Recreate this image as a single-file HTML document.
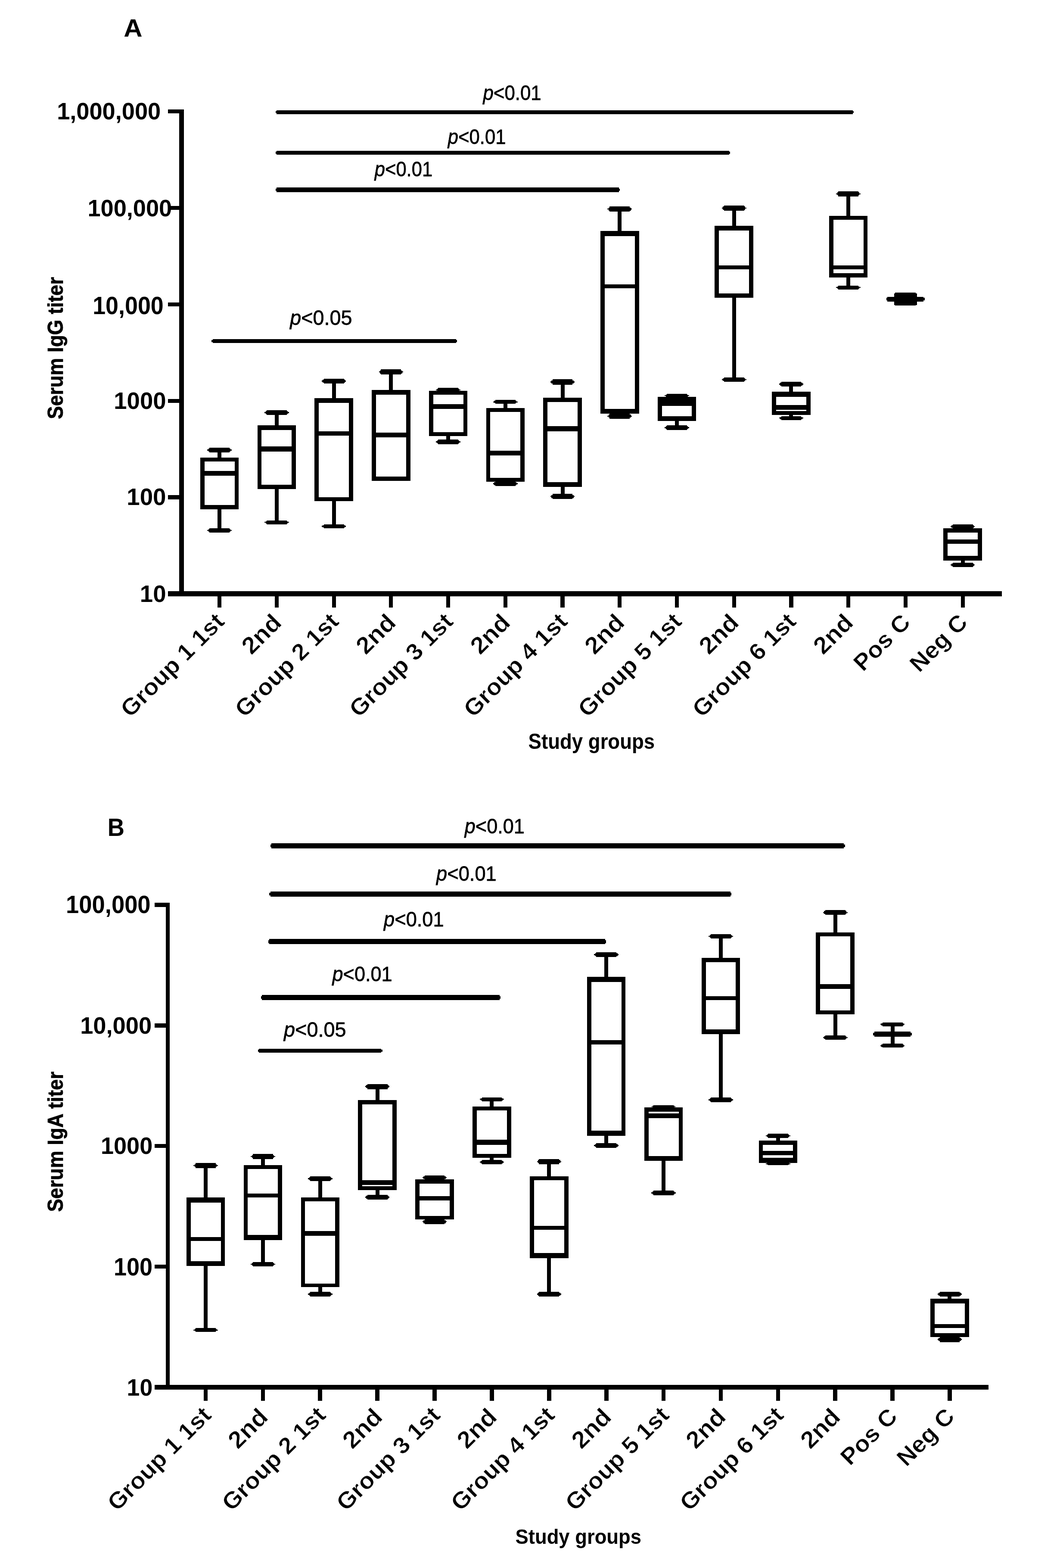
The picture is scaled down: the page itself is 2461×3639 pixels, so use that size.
<!DOCTYPE html>
<html><head><meta charset="utf-8"><title>Serum IgG and IgA titers by study group</title>
<style>
html,body{margin:0;padding:0;background:#fff;}
svg{display:block;}
text{font-family:"Liberation Sans", Arial, Helvetica, sans-serif;fill:#000;}
.pv{stroke:#000;stroke-width:0.8px;}
.tt{stroke:#000;stroke-width:0.8px;}
.xl{stroke:#fff;stroke-width:0.8px;}
</style></head>
<body>
<svg width="2461" height="3639" viewBox="0 0 2461 3639">
<rect x="0" y="0" width="2461" height="3639" fill="#fff"/>
<g>
<text id="pv0" x="1121.5" y="232.4" font-size="48.60" font-weight="normal" textLength="135.2" lengthAdjust="spacingAndGlyphs" class="pv"><tspan font-style="italic">p</tspan><tspan>&lt;0.01</tspan></text>
<text id="pv1" x="1039.8" y="333.7" font-size="48.60" font-weight="normal" textLength="134.8" lengthAdjust="spacingAndGlyphs" class="pv"><tspan font-style="italic">p</tspan><tspan>&lt;0.01</tspan></text>
<text id="pv2" x="869.8" y="409.0" font-size="48.60" font-weight="normal" textLength="134.3" lengthAdjust="spacingAndGlyphs" class="pv"><tspan font-style="italic">p</tspan><tspan>&lt;0.01</tspan></text>
<text id="pv3" x="673.2" y="753.6" font-size="48.60" font-weight="normal" textLength="144.3" lengthAdjust="spacingAndGlyphs" class="pv"><tspan font-style="italic">p</tspan><tspan>&lt;0.05</tspan></text>
<text id="pv4" x="1078.8" y="1933.6" font-size="48.60" font-weight="normal" textLength="139.0" lengthAdjust="spacingAndGlyphs" class="pv"><tspan font-style="italic">p</tspan><tspan>&lt;0.01</tspan></text>
<text id="pv5" x="1013.1" y="2044.0" font-size="48.60" font-weight="normal" textLength="139.6" lengthAdjust="spacingAndGlyphs" class="pv"><tspan font-style="italic">p</tspan><tspan>&lt;0.01</tspan></text>
<text id="pv6" x="891.1" y="2149.9" font-size="48.60" font-weight="normal" textLength="139.5" lengthAdjust="spacingAndGlyphs" class="pv"><tspan font-style="italic">p</tspan><tspan>&lt;0.01</tspan></text>
<text id="pv7" x="771.5" y="2276.6" font-size="48.60" font-weight="normal" textLength="139.2" lengthAdjust="spacingAndGlyphs" class="pv"><tspan font-style="italic">p</tspan><tspan>&lt;0.01</tspan></text>
<text id="pv8" x="659.0" y="2406.1" font-size="48.60" font-weight="normal" textLength="144.6" lengthAdjust="spacingAndGlyphs" class="pv"><tspan font-style="italic">p</tspan><tspan>&lt;0.05</tspan></text>
<text id="yl0" x="132.2" y="276.8" font-size="55.23" font-weight="bold" textLength="241.0" lengthAdjust="spacingAndGlyphs"><tspan>1,000,000</tspan></text>
<text id="yl1" x="203.4" y="502.4" font-size="54.66" font-weight="bold" textLength="195.8" lengthAdjust="spacingAndGlyphs"><tspan>100,000</tspan></text>
<text id="yl2" x="215.2" y="728.8" font-size="56.50" font-weight="bold" textLength="164.6" lengthAdjust="spacingAndGlyphs"><tspan>10,000</tspan></text>
<text id="yl3" x="264.3" y="949.2" font-size="55.65" font-weight="bold" textLength="121.3" lengthAdjust="spacingAndGlyphs"><tspan>1000</tspan></text>
<text id="yl4" x="294.3" y="1172.1" font-size="54.94" font-weight="bold" textLength="91.2" lengthAdjust="spacingAndGlyphs"><tspan>100</tspan></text>
<text id="yl5" x="324.8" y="1397.3" font-size="54.94" font-weight="bold" textLength="60.7" lengthAdjust="spacingAndGlyphs"><tspan>10</tspan></text>
<text id="yl6" x="153.1" y="2119.0" font-size="56.50" font-weight="bold" textLength="196.5" lengthAdjust="spacingAndGlyphs"><tspan>100,000</tspan></text>
<text id="yl7" x="186.2" y="2398.5" font-size="55.79" font-weight="bold" textLength="165.9" lengthAdjust="spacingAndGlyphs"><tspan>10,000</tspan></text>
<text id="yl8" x="234.0" y="2677.9" font-size="55.79" font-weight="bold" textLength="120.2" lengthAdjust="spacingAndGlyphs"><tspan>1000</tspan></text>
<text id="yl9" x="264.0" y="2960.0" font-size="56.50" font-weight="bold" textLength="90.2" lengthAdjust="spacingAndGlyphs"><tspan>100</tspan></text>
<text id="yl10" x="294.6" y="3239.3" font-size="55.51" font-weight="bold" textLength="59.6" lengthAdjust="spacingAndGlyphs"><tspan>10</tspan></text>
<text id="pA" x="287.3" y="84.7" font-size="57.99" font-weight="bold" textLength="43.3" lengthAdjust="spacingAndGlyphs"><tspan>A</tspan></text>
<text id="pB" x="249.8" y="1940.3" font-size="57.99" font-weight="bold" textLength="39.2" lengthAdjust="spacingAndGlyphs"><tspan>B</tspan></text>
<text id="xtA" x="1226.6" y="1737.9" font-size="49.29" font-weight="bold" textLength="293.6" lengthAdjust="spacingAndGlyphs"><tspan>Study groups</tspan></text>
<text id="xtB" x="1196.5" y="3583.1" font-size="48.45" font-weight="bold" textLength="292.6" lengthAdjust="spacingAndGlyphs"><tspan>Study groups</tspan></text>
<text id="ytA" class="tt" x="0" y="0" transform="translate(145.6,972.8) rotate(-90)" font-size="50.28" font-weight="bold" textLength="329.8" lengthAdjust="spacingAndGlyphs">Serum IgG titer</text>
<text id="ytB" class="tt" x="0" y="0" transform="translate(145.6,2812.6) rotate(-90)" font-size="50.28" font-weight="bold" textLength="325.7" lengthAdjust="spacingAndGlyphs">Serum IgA titer</text>
<text id="xa0" class="xl" x="0" y="0" transform="translate(524.1,1445.5) rotate(-45)" font-size="54.00" font-weight="bold" text-anchor="end" textLength="313.6" lengthAdjust="spacingAndGlyphs">Group 1 1st</text>
<text id="xb0" class="xl" x="0" y="0" transform="translate(493.5,3287.5) rotate(-45)" font-size="54.00" font-weight="bold" text-anchor="end" textLength="313.6" lengthAdjust="spacingAndGlyphs">Group 1 1st</text>
<text id="xa1" class="xl" x="0" y="0" transform="translate(656.8,1448.5) rotate(-45)" font-size="55.62" font-weight="bold" text-anchor="end" textLength="103.3" lengthAdjust="spacingAndGlyphs">2nd</text>
<text id="xb1" class="xl" x="0" y="0" transform="translate(625.4,3292.0) rotate(-45)" font-size="55.62" font-weight="bold" text-anchor="end" textLength="103.3" lengthAdjust="spacingAndGlyphs">2nd</text>
<text id="xa2" class="xl" x="0" y="0" transform="translate(789.6,1445.5) rotate(-45)" font-size="54.00" font-weight="bold" text-anchor="end" textLength="313.6" lengthAdjust="spacingAndGlyphs">Group 2 1st</text>
<text id="xb2" class="xl" x="0" y="0" transform="translate(759.3,3287.5) rotate(-45)" font-size="54.00" font-weight="bold" text-anchor="end" textLength="313.6" lengthAdjust="spacingAndGlyphs">Group 2 1st</text>
<text id="xa3" class="xl" x="0" y="0" transform="translate(922.3,1448.5) rotate(-45)" font-size="55.62" font-weight="bold" text-anchor="end" textLength="103.3" lengthAdjust="spacingAndGlyphs">2nd</text>
<text id="xb3" class="xl" x="0" y="0" transform="translate(891.1,3292.0) rotate(-45)" font-size="55.62" font-weight="bold" text-anchor="end" textLength="103.3" lengthAdjust="spacingAndGlyphs">2nd</text>
<text id="xa4" class="xl" x="0" y="0" transform="translate(1055.0,1445.5) rotate(-45)" font-size="54.00" font-weight="bold" text-anchor="end" textLength="313.6" lengthAdjust="spacingAndGlyphs">Group 3 1st</text>
<text id="xb4" class="xl" x="0" y="0" transform="translate(1025.0,3287.5) rotate(-45)" font-size="54.00" font-weight="bold" text-anchor="end" textLength="313.6" lengthAdjust="spacingAndGlyphs">Group 3 1st</text>
<text id="xa5" class="xl" x="0" y="0" transform="translate(1187.8,1448.5) rotate(-45)" font-size="55.62" font-weight="bold" text-anchor="end" textLength="103.3" lengthAdjust="spacingAndGlyphs">2nd</text>
<text id="xb5" class="xl" x="0" y="0" transform="translate(1156.9,3292.0) rotate(-45)" font-size="55.62" font-weight="bold" text-anchor="end" textLength="103.3" lengthAdjust="spacingAndGlyphs">2nd</text>
<text id="xa6" class="xl" x="0" y="0" transform="translate(1320.5,1445.5) rotate(-45)" font-size="54.00" font-weight="bold" text-anchor="end" textLength="313.6" lengthAdjust="spacingAndGlyphs">Group 4 1st</text>
<text id="xb6" class="xl" x="0" y="0" transform="translate(1290.8,3287.5) rotate(-45)" font-size="54.00" font-weight="bold" text-anchor="end" textLength="313.6" lengthAdjust="spacingAndGlyphs">Group 4 1st</text>
<text id="xa7" class="xl" x="0" y="0" transform="translate(1453.2,1448.5) rotate(-45)" font-size="55.62" font-weight="bold" text-anchor="end" textLength="103.3" lengthAdjust="spacingAndGlyphs">2nd</text>
<text id="xb7" class="xl" x="0" y="0" transform="translate(1422.7,3292.0) rotate(-45)" font-size="55.62" font-weight="bold" text-anchor="end" textLength="103.3" lengthAdjust="spacingAndGlyphs">2nd</text>
<text id="xa8" class="xl" x="0" y="0" transform="translate(1585.9,1445.5) rotate(-45)" font-size="54.00" font-weight="bold" text-anchor="end" textLength="313.6" lengthAdjust="spacingAndGlyphs">Group 5 1st</text>
<text id="xb8" class="xl" x="0" y="0" transform="translate(1556.5,3287.5) rotate(-45)" font-size="54.00" font-weight="bold" text-anchor="end" textLength="313.6" lengthAdjust="spacingAndGlyphs">Group 5 1st</text>
<text id="xa9" class="xl" x="0" y="0" transform="translate(1718.7,1448.5) rotate(-45)" font-size="55.62" font-weight="bold" text-anchor="end" textLength="103.3" lengthAdjust="spacingAndGlyphs">2nd</text>
<text id="xb9" class="xl" x="0" y="0" transform="translate(1688.4,3292.0) rotate(-45)" font-size="55.62" font-weight="bold" text-anchor="end" textLength="103.3" lengthAdjust="spacingAndGlyphs">2nd</text>
<text id="xa10" class="xl" x="0" y="0" transform="translate(1851.4,1445.5) rotate(-45)" font-size="54.00" font-weight="bold" text-anchor="end" textLength="313.6" lengthAdjust="spacingAndGlyphs">Group 6 1st</text>
<text id="xb10" class="xl" x="0" y="0" transform="translate(1822.3,3287.5) rotate(-45)" font-size="54.00" font-weight="bold" text-anchor="end" textLength="313.6" lengthAdjust="spacingAndGlyphs">Group 6 1st</text>
<text id="xa11" class="xl" x="0" y="0" transform="translate(1984.1,1448.5) rotate(-45)" font-size="55.62" font-weight="bold" text-anchor="end" textLength="103.3" lengthAdjust="spacingAndGlyphs">2nd</text>
<text id="xb11" class="xl" x="0" y="0" transform="translate(1954.2,3292.0) rotate(-45)" font-size="55.62" font-weight="bold" text-anchor="end" textLength="103.3" lengthAdjust="spacingAndGlyphs">2nd</text>
<text id="xa12" class="xl" x="0" y="0" transform="translate(2116.9,1447.5) rotate(-45)" font-size="54.00" font-weight="bold" text-anchor="end" textLength="159.9" lengthAdjust="spacingAndGlyphs">Pos C</text>
<text id="xb12" class="xl" x="0" y="0" transform="translate(2086.6,3290.5) rotate(-45)" font-size="54.00" font-weight="bold" text-anchor="end" textLength="159.9" lengthAdjust="spacingAndGlyphs">Pos C</text>
<text id="xa13" class="xl" x="0" y="0" transform="translate(2249.6,1447.5) rotate(-45)" font-size="54.00" font-weight="bold" text-anchor="end" textLength="163.0" lengthAdjust="spacingAndGlyphs">Neg C</text>
<text id="xb13" class="xl" x="0" y="0" transform="translate(2219.4,3290.5) rotate(-45)" font-size="54.00" font-weight="bold" text-anchor="end" textLength="163.0" lengthAdjust="spacingAndGlyphs">Neg C</text>
</g>
<g fill="#000" shape-rendering="crispEdges">
<rect x="415.8" y="253.8" width="11.5" height="1130.2"/>
<rect x="390.0" y="1372.0" width="1936.0" height="12.0"/>
<rect x="390.0" y="1149.4" width="37.3" height="9.4"/>
<rect x="390.0" y="925.5" width="37.3" height="9.4"/>
<rect x="390.0" y="701.6" width="37.3" height="9.4"/>
<rect x="390.0" y="477.7" width="37.3" height="9.4"/>
<rect x="390.0" y="253.8" width="37.3" height="9.4"/>
<rect x="505.0" y="1383.0" width="9.2" height="26.5"/>
<rect x="637.7" y="1383.0" width="9.2" height="26.5"/>
<rect x="770.5" y="1383.0" width="9.2" height="26.5"/>
<rect x="903.2" y="1383.0" width="9.2" height="26.5"/>
<rect x="1035.9" y="1383.0" width="9.2" height="26.5"/>
<rect x="1168.7" y="1383.0" width="9.2" height="26.5"/>
<rect x="1301.4" y="1383.0" width="9.2" height="26.5"/>
<rect x="1434.1" y="1383.0" width="9.2" height="26.5"/>
<rect x="1566.8" y="1383.0" width="9.2" height="26.5"/>
<rect x="1699.6" y="1383.0" width="9.2" height="26.5"/>
<rect x="1832.3" y="1383.0" width="9.2" height="26.5"/>
<rect x="1965.0" y="1383.0" width="9.2" height="26.5"/>
<rect x="2097.8" y="1383.0" width="9.2" height="26.5"/>
<rect x="2230.5" y="1383.0" width="9.2" height="26.5"/>
<rect x="505.1" y="1049.0" width="9.0" height="14.0"/>
<path d="M533.0 1039.0L533.0 1041.2L535.4 1041.2L535.4 1043.3L537.9 1043.3L537.9 1045.7L535.4 1045.7L535.4 1047.8L533.0 1047.8L533.0 1050.0L486.2 1050.0L486.2 1047.8L483.8 1047.8L483.8 1045.7L481.3 1045.7L481.3 1043.3L483.8 1043.3L483.8 1041.2L486.2 1041.2L486.2 1039.0Z"/>
<rect x="505.1" y="1180.5" width="9.0" height="46.8"/>
<path d="M533.0 1226.3L533.0 1228.2L535.4 1228.2L535.4 1230.0L537.9 1230.0L537.9 1232.1L535.4 1232.1L535.4 1233.9L533.0 1233.9L533.0 1235.8L486.2 1235.8L486.2 1233.9L483.8 1233.9L483.8 1232.1L481.3 1232.1L481.3 1230.0L483.8 1230.0L483.8 1228.2L486.2 1228.2L486.2 1226.3Z"/>
<rect x="464.9" y="1062.0" width="89.5" height="8.9"/>
<rect x="464.9" y="1172.3" width="89.5" height="9.2"/>
<rect x="464.9" y="1062.0" width="9.8" height="119.5"/>
<rect x="544.6" y="1062.0" width="9.8" height="119.5"/>
<rect x="464.9" y="1092.5" width="89.5" height="11.0"/>
<rect x="637.8" y="961.9" width="9.0" height="26.2"/>
<path d="M665.7 951.8L665.7 954.0L668.1 954.0L668.1 956.1L670.6 956.1L670.6 958.6L668.1 958.6L668.1 960.7L665.7 960.7L665.7 962.9L618.9 962.9L618.9 960.7L616.5 960.7L616.5 958.6L614.0 958.6L614.0 956.1L616.5 956.1L616.5 954.0L618.9 954.0L618.9 951.8Z"/>
<rect x="637.8" y="1133.7" width="9.0" height="75.1"/>
<path d="M665.7 1207.8L665.7 1209.6L668.1 1209.6L668.1 1211.3L670.6 1211.3L670.6 1213.2L668.1 1213.2L668.1 1214.9L665.7 1214.9L665.7 1216.7L618.9 1216.7L618.9 1214.9L616.5 1214.9L616.5 1213.2L614.0 1213.2L614.0 1211.3L616.5 1211.3L616.5 1209.6L618.9 1209.6L618.9 1207.8Z"/>
<rect x="597.6" y="987.1" width="89.5" height="11.1"/>
<rect x="597.6" y="1125.4" width="89.5" height="9.3"/>
<rect x="597.6" y="987.1" width="9.8" height="147.6"/>
<rect x="677.3" y="987.1" width="9.8" height="147.6"/>
<rect x="597.6" y="1036.0" width="89.5" height="11.5"/>
<rect x="770.6" y="889.4" width="9.0" height="35.1"/>
<path d="M798.5 878.6L798.5 881.0L800.9 881.0L800.9 883.2L803.4 883.2L803.4 885.8L800.9 885.8L800.9 888.0L798.5 888.0L798.5 890.4L751.7 890.4L751.7 888.0L749.3 888.0L749.3 885.8L746.8 885.8L746.8 883.2L749.3 883.2L749.3 881.0L751.7 881.0L751.7 878.6Z"/>
<rect x="770.6" y="1161.7" width="9.0" height="56.0"/>
<path d="M798.5 1216.7L798.5 1218.6L800.9 1218.6L800.9 1220.4L803.4 1220.4L803.4 1222.6L800.9 1222.6L800.9 1224.4L798.5 1224.4L798.5 1226.3L751.7 1226.3L751.7 1224.4L749.3 1224.4L749.3 1222.6L746.8 1222.6L746.8 1220.4L749.3 1220.4L749.3 1218.6L751.7 1218.6L751.7 1216.7Z"/>
<rect x="730.3" y="923.5" width="89.5" height="11.1"/>
<rect x="730.3" y="1153.7" width="89.5" height="9.0"/>
<rect x="730.3" y="923.5" width="9.8" height="239.2"/>
<rect x="810.0" y="923.5" width="9.8" height="239.2"/>
<rect x="730.3" y="1000.8" width="89.5" height="9.8"/>
<rect x="903.3" y="867.9" width="9.0" height="37.8"/>
<path d="M931.2 857.4L931.2 859.7L933.6 859.7L933.6 861.9L936.1 861.9L936.1 864.4L933.6 864.4L933.6 866.6L931.2 866.6L931.2 868.9L884.4 868.9L884.4 866.6L882.0 866.6L882.0 864.4L879.5 864.4L879.5 861.9L882.0 861.9L882.0 859.7L884.4 859.7L884.4 857.4Z"/>
<rect x="863.0" y="904.7" width="89.5" height="11.5"/>
<rect x="863.0" y="1106.3" width="89.5" height="9.5"/>
<rect x="863.0" y="904.7" width="9.8" height="211.1"/>
<rect x="942.7" y="904.7" width="9.8" height="211.1"/>
<rect x="863.0" y="1003.6" width="89.5" height="11.1"/>
<rect x="1036.0" y="908.0" width="9.0" height="0.0"/>
<path d="M1063.9 900.2L1063.9 902.0L1066.3 902.0L1066.3 903.6L1068.8 903.6L1068.8 905.6L1066.3 905.6L1066.3 907.2L1063.9 907.2L1063.9 909.0L1017.1 909.0L1017.1 907.2L1014.7 907.2L1014.7 905.6L1012.2 905.6L1012.2 903.6L1014.7 903.6L1014.7 902.0L1017.1 902.0L1017.1 900.2Z"/>
<rect x="1036.0" y="1011.0" width="9.0" height="9.6"/>
<path d="M1063.9 1019.6L1063.9 1021.9L1066.3 1021.9L1066.3 1024.0L1068.8 1024.0L1068.8 1026.6L1066.3 1026.6L1066.3 1028.7L1063.9 1028.7L1063.9 1031.0L1017.1 1031.0L1017.1 1028.7L1014.7 1028.7L1014.7 1026.6L1012.2 1026.6L1012.2 1024.0L1014.7 1024.0L1014.7 1021.9L1017.1 1021.9L1017.1 1019.6Z"/>
<rect x="995.8" y="907.0" width="89.5" height="9.2"/>
<rect x="995.8" y="1003.0" width="89.5" height="9.0"/>
<rect x="995.8" y="907.0" width="9.8" height="105.0"/>
<rect x="1075.5" y="907.0" width="9.8" height="105.0"/>
<rect x="995.8" y="937.6" width="89.5" height="11.4"/>
<rect x="1168.8" y="936.2" width="9.0" height="11.9"/>
<path d="M1196.7 928.0L1196.7 929.8L1199.1 929.8L1199.1 931.6L1201.6 931.6L1201.6 933.6L1199.1 933.6L1199.1 935.4L1196.7 935.4L1196.7 937.2L1149.8 937.2L1149.8 935.4L1147.4 935.4L1147.4 933.6L1144.9 933.6L1144.9 931.6L1147.4 931.6L1147.4 929.8L1149.8 929.8L1149.8 928.0Z"/>
<rect x="1168.8" y="1117.1" width="9.0" height="0.9"/>
<path d="M1196.7 1117.0L1196.7 1119.1L1199.1 1119.1L1199.1 1121.1L1201.6 1121.1L1201.6 1123.5L1199.1 1123.5L1199.1 1125.5L1196.7 1125.5L1196.7 1127.6L1149.8 1127.6L1149.8 1125.5L1147.4 1125.5L1147.4 1123.5L1144.9 1123.5L1144.9 1121.1L1147.4 1121.1L1147.4 1119.1L1149.8 1119.1L1149.8 1117.0Z"/>
<rect x="1128.5" y="947.1" width="89.5" height="8.8"/>
<rect x="1128.5" y="1109.0" width="89.5" height="9.1"/>
<rect x="1128.5" y="947.1" width="9.8" height="171.0"/>
<rect x="1208.2" y="947.1" width="9.8" height="171.0"/>
<rect x="1128.5" y="1045.6" width="89.5" height="11.4"/>
<rect x="1301.5" y="891.5" width="9.0" height="32.5"/>
<path d="M1329.4 880.3L1329.4 882.7L1331.8 882.7L1331.8 885.1L1334.3 885.1L1334.3 887.7L1331.8 887.7L1331.8 890.1L1329.4 890.1L1329.4 892.5L1282.6 892.5L1282.6 890.1L1280.2 890.1L1280.2 887.7L1277.7 887.7L1277.7 885.1L1280.2 885.1L1280.2 882.7L1282.6 882.7L1282.6 880.3Z"/>
<rect x="1301.5" y="1129.0" width="9.0" height="18.3"/>
<path d="M1329.4 1146.3L1329.4 1148.6L1331.8 1148.6L1331.8 1150.8L1334.3 1150.8L1334.3 1153.3L1331.8 1153.3L1331.8 1155.5L1329.4 1155.5L1329.4 1157.8L1282.6 1157.8L1282.6 1155.5L1280.2 1155.5L1280.2 1153.3L1277.7 1153.3L1277.7 1150.8L1280.2 1150.8L1280.2 1148.6L1282.6 1148.6L1282.6 1146.3Z"/>
<rect x="1261.2" y="923.0" width="89.5" height="10.4"/>
<rect x="1261.2" y="1118.5" width="89.5" height="11.5"/>
<rect x="1261.2" y="923.0" width="9.8" height="207.0"/>
<rect x="1340.9" y="923.0" width="9.8" height="207.0"/>
<rect x="1261.2" y="989.0" width="89.5" height="11.5"/>
<rect x="1434.2" y="489.8" width="9.0" height="47.4"/>
<path d="M1462.1 479.3L1462.1 481.6L1464.5 481.6L1464.5 483.8L1467.0 483.8L1467.0 486.3L1464.5 486.3L1464.5 488.5L1462.1 488.5L1462.1 490.8L1415.3 490.8L1415.3 488.5L1412.9 488.5L1412.9 486.3L1410.4 486.3L1410.4 483.8L1412.9 483.8L1412.9 481.6L1415.3 481.6L1415.3 479.3Z"/>
<rect x="1434.2" y="959.2" width="9.0" height="1.8"/>
<path d="M1462.1 960.0L1462.1 962.3L1464.5 962.3L1464.5 964.6L1467.0 964.6L1467.0 967.1L1464.5 967.1L1464.5 969.4L1462.1 969.4L1462.1 971.7L1415.3 971.7L1415.3 969.4L1412.9 969.4L1412.9 967.1L1410.4 967.1L1410.4 964.6L1412.9 964.6L1412.9 962.3L1415.3 962.3L1415.3 960.0Z"/>
<rect x="1394.0" y="536.2" width="89.5" height="11.4"/>
<rect x="1394.0" y="948.8" width="89.5" height="11.4"/>
<rect x="1394.0" y="536.2" width="9.8" height="424.0"/>
<rect x="1473.7" y="536.2" width="9.8" height="424.0"/>
<rect x="1394.0" y="659.8" width="89.5" height="9.6"/>
<rect x="1566.9" y="921.0" width="9.0" height="1.0"/>
<path d="M1594.8 914.4L1594.8 915.9L1597.2 915.9L1597.2 917.4L1599.7 917.4L1599.7 919.0L1597.2 919.0L1597.2 920.5L1594.8 920.5L1594.8 922.0L1548.0 922.0L1548.0 920.5L1545.6 920.5L1545.6 919.0L1543.1 919.0L1543.1 917.4L1545.6 917.4L1545.6 915.9L1548.0 915.9L1548.0 914.4Z"/>
<rect x="1566.9" y="976.0" width="9.0" height="12.0"/>
<path d="M1594.8 987.0L1594.8 989.2L1597.2 989.2L1597.2 991.3L1599.7 991.3L1599.7 993.7L1597.2 993.7L1597.2 995.8L1594.8 995.8L1594.8 998.0L1548.0 998.0L1548.0 995.8L1545.6 995.8L1545.6 993.7L1543.1 993.7L1543.1 991.3L1545.6 991.3L1545.6 989.2L1548.0 989.2L1548.0 987.0Z"/>
<rect x="1526.7" y="921.0" width="89.5" height="9.5"/>
<rect x="1526.7" y="965.6" width="89.5" height="11.4"/>
<rect x="1526.7" y="921.0" width="9.8" height="56.0"/>
<rect x="1606.4" y="921.0" width="9.8" height="56.0"/>
<rect x="1526.7" y="930.0" width="89.5" height="12.0"/>
<rect x="1699.7" y="487.9" width="9.0" height="37.1"/>
<path d="M1727.6 477.0L1727.6 479.4L1730.0 479.4L1730.0 481.6L1732.5 481.6L1732.5 484.3L1730.0 484.3L1730.0 486.5L1727.6 486.5L1727.6 488.9L1680.8 488.9L1680.8 486.5L1678.4 486.5L1678.4 484.3L1675.9 484.3L1675.9 481.6L1678.4 481.6L1678.4 479.4L1680.8 479.4L1680.8 477.0Z"/>
<rect x="1699.7" y="689.8" width="9.0" height="187.1"/>
<path d="M1727.6 875.9L1727.6 877.9L1730.0 877.9L1730.0 879.8L1732.5 879.8L1732.5 881.9L1730.0 881.9L1730.0 883.8L1727.6 883.8L1727.6 885.8L1680.8 885.8L1680.8 883.8L1678.4 883.8L1678.4 881.9L1675.9 881.9L1675.9 879.8L1678.4 879.8L1678.4 877.9L1680.8 877.9L1680.8 875.9Z"/>
<rect x="1659.4" y="524.0" width="89.5" height="11.4"/>
<rect x="1659.4" y="681.2" width="89.5" height="9.6"/>
<rect x="1659.4" y="524.0" width="9.8" height="166.8"/>
<rect x="1739.1" y="524.0" width="9.8" height="166.8"/>
<rect x="1659.4" y="615.6" width="89.5" height="9.5"/>
<rect x="1832.4" y="896.0" width="9.0" height="14.0"/>
<path d="M1860.3 885.6L1860.3 887.9L1862.7 887.9L1862.7 890.0L1865.2 890.0L1865.2 892.6L1862.7 892.6L1862.7 894.7L1860.3 894.7L1860.3 897.0L1813.5 897.0L1813.5 894.7L1811.1 894.7L1811.1 892.6L1808.6 892.6L1808.6 890.0L1811.1 890.0L1811.1 887.9L1813.5 887.9L1813.5 885.6Z"/>
<rect x="1832.4" y="962.0" width="9.0" height="4.8"/>
<path d="M1860.3 965.8L1860.3 967.6L1862.7 967.6L1862.7 969.4L1865.2 969.4L1865.2 971.4L1862.7 971.4L1862.7 973.2L1860.3 973.2L1860.3 975.0L1813.5 975.0L1813.5 973.2L1811.1 973.2L1811.1 971.4L1808.6 971.4L1808.6 969.4L1811.1 969.4L1811.1 967.6L1813.5 967.6L1813.5 965.8Z"/>
<rect x="1792.2" y="909.0" width="89.5" height="11.9"/>
<rect x="1792.2" y="953.8" width="89.5" height="9.2"/>
<rect x="1792.2" y="909.0" width="9.8" height="54.0"/>
<rect x="1871.9" y="909.0" width="9.8" height="54.0"/>
<rect x="1792.2" y="939.8" width="89.5" height="11.3"/>
<rect x="1965.1" y="454.7" width="9.0" height="47.1"/>
<path d="M1993.0 443.9L1993.0 446.3L1995.4 446.3L1995.4 448.5L1997.9 448.5L1997.9 451.1L1995.4 451.1L1995.4 453.3L1993.0 453.3L1993.0 455.7L1946.2 455.7L1946.2 453.3L1943.8 453.3L1943.8 451.1L1941.3 451.1L1941.3 448.5L1943.8 448.5L1943.8 446.3L1946.2 446.3L1946.2 443.9Z"/>
<rect x="1965.1" y="642.6" width="9.0" height="21.1"/>
<path d="M1993.0 662.7L1993.0 664.6L1995.4 664.6L1995.4 666.3L1997.9 666.3L1997.9 668.4L1995.4 668.4L1995.4 670.1L1993.0 670.1L1993.0 672.0L1946.2 672.0L1946.2 670.1L1943.8 670.1L1943.8 668.4L1941.3 668.4L1941.3 666.3L1943.8 666.3L1943.8 664.6L1946.2 664.6L1946.2 662.7Z"/>
<rect x="1924.9" y="500.8" width="89.5" height="8.9"/>
<rect x="1924.9" y="634.4" width="89.5" height="9.2"/>
<rect x="1924.9" y="500.8" width="9.8" height="142.8"/>
<rect x="2004.6" y="500.8" width="9.8" height="142.8"/>
<rect x="1924.9" y="615.6" width="89.5" height="9.3"/>
<rect x="2230.6" y="1226.0" width="9.0" height="1.3"/>
<path d="M2258.5 1217.2L2258.5 1219.2L2260.9 1219.2L2260.9 1221.0L2263.4 1221.0L2263.4 1223.2L2260.9 1223.2L2260.9 1225.0L2258.5 1225.0L2258.5 1227.0L2211.7 1227.0L2211.7 1225.0L2209.3 1225.0L2209.3 1223.2L2206.8 1223.2L2206.8 1221.0L2209.3 1221.0L2209.3 1219.2L2211.7 1219.2L2211.7 1217.2Z"/>
<rect x="2230.6" y="1300.3" width="9.0" height="6.8"/>
<path d="M2258.5 1306.1L2258.5 1308.0L2260.9 1308.0L2260.9 1309.8L2263.4 1309.8L2263.4 1311.9L2260.9 1311.9L2260.9 1313.7L2258.5 1313.7L2258.5 1315.6L2211.7 1315.6L2211.7 1313.7L2209.3 1313.7L2209.3 1311.9L2206.8 1311.9L2206.8 1309.8L2209.3 1309.8L2209.3 1308.0L2211.7 1308.0L2211.7 1306.1Z"/>
<rect x="2190.3" y="1226.3" width="89.5" height="9.6"/>
<rect x="2190.3" y="1289.9" width="89.5" height="11.4"/>
<rect x="2190.3" y="1226.3" width="9.8" height="75.0"/>
<rect x="2270.0" y="1226.3" width="9.8" height="75.0"/>
<rect x="2190.3" y="1252.1" width="89.5" height="9.5"/>
<path d="M2126.4 679.3L2126.4 680.9L2129.0 680.9L2129.0 707.6L2126.4 707.6L2126.4 709.2L2078.4 709.2L2078.4 707.6L2075.8 707.6L2075.8 680.9L2078.4 680.9L2078.4 679.3Z"/>
<path d="M2144.4 688.5L2144.4 691.0L2146.9 691.0L2146.9 697.1L2144.4 697.1L2144.4 699.6L2060.4 699.6L2060.4 697.1L2057.9 697.1L2057.9 691.0L2060.4 691.0L2060.4 688.5Z"/>
<path d="M1979.7 255.5L1979.7 257.7L1982.0 257.7L1982.0 262.3L1979.7 262.3L1979.7 264.5L642.0 264.5L642.0 262.3L639.7 262.3L639.7 257.7L642.0 257.7L642.0 255.5Z"/>
<path d="M1692.9 350.3L1692.9 352.4L1695.2 352.4L1695.2 356.9L1692.9 356.9L1692.9 359.0L642.0 359.0L642.0 356.9L639.7 356.9L639.7 352.4L642.0 352.4L642.0 350.3Z"/>
<path d="M1436.9 435.0L1436.9 437.6L1439.2 437.6L1439.2 443.4L1436.9 443.4L1436.9 446.0L642.0 446.0L642.0 443.4L639.7 443.4L639.7 437.6L642.0 437.6L642.0 435.0Z"/>
<path d="M1058.8 786.7L1058.8 789.0L1061.1 789.0L1061.1 793.9L1058.8 793.9L1058.8 796.2L493.6 796.2L493.6 793.9L491.3 793.9L491.3 789.0L493.6 789.0L493.6 786.7Z"/>
<rect x="385.0" y="2095.3" width="9.4" height="1129.7"/>
<rect x="359.0" y="3213.8" width="1936.3" height="11.2"/>
<rect x="359.0" y="2934.5" width="35.4" height="9.5"/>
<rect x="359.0" y="2654.8" width="35.4" height="9.5"/>
<rect x="359.0" y="2375.0" width="35.4" height="9.5"/>
<rect x="359.0" y="2095.2" width="35.4" height="9.5"/>
<rect x="472.6" y="3224.0" width="9.7" height="27.0"/>
<rect x="605.5" y="3224.0" width="9.7" height="27.0"/>
<rect x="738.4" y="3224.0" width="9.7" height="27.0"/>
<rect x="871.3" y="3224.0" width="9.7" height="27.0"/>
<rect x="1004.2" y="3224.0" width="9.7" height="27.0"/>
<rect x="1137.1" y="3224.0" width="9.7" height="27.0"/>
<rect x="1269.9" y="3224.0" width="9.7" height="27.0"/>
<rect x="1402.8" y="3224.0" width="9.7" height="27.0"/>
<rect x="1535.7" y="3224.0" width="9.7" height="27.0"/>
<rect x="1668.6" y="3224.0" width="9.7" height="27.0"/>
<rect x="1801.5" y="3224.0" width="9.7" height="27.0"/>
<rect x="1934.3" y="3224.0" width="9.7" height="27.0"/>
<rect x="2067.2" y="3224.0" width="9.7" height="27.0"/>
<rect x="2200.1" y="3224.0" width="9.7" height="27.0"/>
<rect x="473.0" y="2709.7" width="9.0" height="70.3"/>
<path d="M500.9 2699.2L500.9 2701.5L503.3 2701.5L503.3 2703.7L505.8 2703.7L505.8 2706.2L503.3 2706.2L503.3 2708.4L500.9 2708.4L500.9 2710.7L454.1 2710.7L454.1 2708.4L451.7 2708.4L451.7 2706.2L449.2 2706.2L449.2 2703.7L451.7 2703.7L451.7 2701.5L454.1 2701.5L454.1 2699.2Z"/>
<rect x="473.0" y="2936.8" width="9.0" height="146.6"/>
<path d="M500.9 3082.4L500.9 3084.2L503.3 3084.2L503.3 3085.8L505.8 3085.8L505.8 3087.8L503.3 3087.8L503.3 3089.4L500.9 3089.4L500.9 3091.2L454.1 3091.2L454.1 3089.4L451.7 3089.4L451.7 3087.8L449.2 3087.8L449.2 3085.8L451.7 3085.8L451.7 3084.2L454.1 3084.2L454.1 3082.4Z"/>
<rect x="432.8" y="2779.0" width="89.5" height="11.5"/>
<rect x="432.8" y="2927.1" width="89.5" height="10.7"/>
<rect x="432.8" y="2779.0" width="9.8" height="158.8"/>
<rect x="512.5" y="2779.0" width="9.8" height="158.8"/>
<rect x="432.8" y="2871.0" width="89.5" height="8.8"/>
<rect x="605.9" y="2688.7" width="9.0" height="16.5"/>
<path d="M633.8 2678.2L633.8 2680.5L636.2 2680.5L636.2 2682.7L638.7 2682.7L638.7 2685.2L636.2 2685.2L636.2 2687.4L633.8 2687.4L633.8 2689.7L587.0 2689.7L587.0 2687.4L584.6 2687.4L584.6 2685.2L582.1 2685.2L582.1 2682.7L584.6 2682.7L584.6 2680.5L587.0 2680.5L587.0 2678.2Z"/>
<rect x="605.9" y="2876.5" width="9.0" height="53.5"/>
<path d="M633.8 2929.0L633.8 2930.9L636.2 2930.9L636.2 2932.7L638.7 2932.7L638.7 2934.8L636.2 2934.8L636.2 2936.6L633.8 2936.6L633.8 2938.5L587.0 2938.5L587.0 2936.6L584.6 2936.6L584.6 2934.8L582.1 2934.8L582.1 2932.7L584.6 2932.7L584.6 2930.9L587.0 2930.9L587.0 2929.0Z"/>
<rect x="565.6" y="2704.2" width="89.5" height="8.6"/>
<rect x="565.6" y="2866.0" width="89.5" height="11.5"/>
<rect x="565.6" y="2704.2" width="9.8" height="173.3"/>
<rect x="645.3" y="2704.2" width="9.8" height="173.3"/>
<rect x="565.6" y="2769.8" width="89.5" height="9.2"/>
<rect x="738.8" y="2740.2" width="9.0" height="39.8"/>
<path d="M766.7 2729.8L766.7 2732.1L769.1 2732.1L769.1 2734.2L771.6 2734.2L771.6 2736.8L769.1 2736.8L769.1 2738.9L766.7 2738.9L766.7 2741.2L719.9 2741.2L719.9 2738.9L717.5 2738.9L717.5 2736.8L715.0 2736.8L715.0 2734.2L717.5 2734.2L717.5 2732.1L719.9 2732.1L719.9 2729.8Z"/>
<rect x="738.8" y="2986.4" width="9.0" height="12.3"/>
<path d="M766.7 2997.7L766.7 3000.0L769.1 3000.0L769.1 3002.2L771.6 3002.2L771.6 3004.7L769.1 3004.7L769.1 3006.9L766.7 3006.9L766.7 3009.2L719.9 3009.2L719.9 3006.9L717.5 3006.9L717.5 3004.7L715.0 3004.7L715.0 3002.2L717.5 3002.2L717.5 3000.0L719.9 3000.0L719.9 2997.7Z"/>
<rect x="698.5" y="2779.0" width="89.5" height="8.8"/>
<rect x="698.5" y="2978.8" width="89.5" height="8.6"/>
<rect x="698.5" y="2779.0" width="9.8" height="208.4"/>
<rect x="778.2" y="2779.0" width="9.8" height="208.4"/>
<rect x="698.5" y="2856.9" width="89.5" height="11.1"/>
<rect x="871.6" y="2526.5" width="9.0" height="27.5"/>
<path d="M899.5 2515.6L899.5 2518.0L901.9 2518.0L901.9 2520.2L904.4 2520.2L904.4 2522.9L901.9 2522.9L901.9 2525.1L899.5 2525.1L899.5 2527.5L852.7 2527.5L852.7 2525.1L850.3 2525.1L850.3 2522.9L847.8 2522.9L847.8 2520.2L850.3 2520.2L850.3 2518.0L852.7 2518.0L852.7 2515.6Z"/>
<rect x="871.6" y="2761.2" width="9.0" height="12.3"/>
<path d="M899.5 2772.5L899.5 2774.8L901.9 2774.8L901.9 2777.0L904.4 2777.0L904.4 2779.5L901.9 2779.5L901.9 2781.7L899.5 2781.7L899.5 2784.0L852.7 2784.0L852.7 2781.7L850.3 2781.7L850.3 2779.5L847.8 2779.5L847.8 2777.0L850.3 2777.0L850.3 2774.8L852.7 2774.8L852.7 2772.5Z"/>
<rect x="831.4" y="2553.0" width="89.5" height="9.6"/>
<rect x="831.4" y="2753.4" width="89.5" height="8.8"/>
<rect x="831.4" y="2553.0" width="9.8" height="209.2"/>
<rect x="911.1" y="2553.0" width="9.8" height="209.2"/>
<rect x="831.4" y="2739.3" width="89.5" height="10.7"/>
<rect x="1004.5" y="2737.0" width="9.0" height="1.0"/>
<path d="M1032.4 2727.5L1032.4 2729.6L1034.8 2729.6L1034.8 2731.6L1037.3 2731.6L1037.3 2733.9L1034.8 2733.9L1034.8 2735.9L1032.4 2735.9L1032.4 2738.0L985.6 2738.0L985.6 2735.9L983.2 2735.9L983.2 2733.9L980.7 2733.9L980.7 2731.6L983.2 2731.6L983.2 2729.6L985.6 2729.6L985.6 2727.5Z"/>
<rect x="1004.5" y="2829.2" width="9.0" height="1.3"/>
<path d="M1032.4 2829.5L1032.4 2831.8L1034.8 2831.8L1034.8 2833.9L1037.3 2833.9L1037.3 2836.4L1034.8 2836.4L1034.8 2838.5L1032.4 2838.5L1032.4 2840.8L985.6 2840.8L985.6 2838.5L983.2 2838.5L983.2 2836.4L980.7 2836.4L980.7 2833.9L983.2 2833.9L983.2 2831.8L985.6 2831.8L985.6 2829.5Z"/>
<rect x="964.3" y="2737.0" width="89.5" height="10.3"/>
<rect x="964.3" y="2821.6" width="89.5" height="8.6"/>
<rect x="964.3" y="2737.0" width="9.8" height="93.2"/>
<rect x="1044.0" y="2737.0" width="9.8" height="93.2"/>
<rect x="964.3" y="2776.0" width="89.5" height="9.5"/>
<rect x="1137.4" y="2554.7" width="9.0" height="14.3"/>
<path d="M1165.3 2547.0L1165.3 2548.7L1167.7 2548.7L1167.7 2550.4L1170.2 2550.4L1170.2 2552.3L1167.7 2552.3L1167.7 2554.0L1165.3 2554.0L1165.3 2555.7L1118.5 2555.7L1118.5 2554.0L1116.1 2554.0L1116.1 2552.3L1113.6 2552.3L1113.6 2550.4L1116.1 2550.4L1116.1 2548.7L1118.5 2548.7L1118.5 2547.0Z"/>
<rect x="1137.4" y="2686.0" width="9.0" height="7.0"/>
<path d="M1165.3 2692.0L1165.3 2693.9L1167.7 2693.9L1167.7 2695.7L1170.2 2695.7L1170.2 2697.8L1167.7 2697.8L1167.7 2699.6L1165.3 2699.6L1165.3 2701.5L1118.5 2701.5L1118.5 2699.6L1116.1 2699.6L1116.1 2697.8L1113.6 2697.8L1113.6 2695.7L1116.1 2695.7L1116.1 2693.9L1118.5 2693.9L1118.5 2692.0Z"/>
<rect x="1097.2" y="2568.0" width="89.5" height="8.7"/>
<rect x="1097.2" y="2678.4" width="89.5" height="8.6"/>
<rect x="1097.2" y="2568.0" width="9.8" height="119.0"/>
<rect x="1176.9" y="2568.0" width="9.8" height="119.0"/>
<rect x="1097.2" y="2645.4" width="89.5" height="11.1"/>
<rect x="1270.3" y="2700.5" width="9.0" height="30.5"/>
<path d="M1298.2 2690.0L1298.2 2692.3L1300.6 2692.3L1300.6 2694.5L1303.1 2694.5L1303.1 2697.0L1300.6 2697.0L1300.6 2699.2L1298.2 2699.2L1298.2 2701.5L1251.4 2701.5L1251.4 2699.2L1249.0 2699.2L1249.0 2697.0L1246.5 2697.0L1246.5 2694.5L1249.0 2694.5L1249.0 2692.3L1251.4 2692.3L1251.4 2690.0Z"/>
<rect x="1270.3" y="2918.8" width="9.0" height="79.9"/>
<path d="M1298.2 2997.7L1298.2 3000.0L1300.6 3000.0L1300.6 3002.2L1303.1 3002.2L1303.1 3004.7L1300.6 3004.7L1300.6 3006.9L1298.2 3006.9L1298.2 3009.2L1251.4 3009.2L1251.4 3006.9L1249.0 3006.9L1249.0 3004.7L1246.5 3004.7L1246.5 3002.2L1249.0 3002.2L1249.0 3000.0L1251.4 3000.0L1251.4 2997.7Z"/>
<rect x="1230.0" y="2730.0" width="89.5" height="9.1"/>
<rect x="1230.0" y="2908.4" width="89.5" height="11.4"/>
<rect x="1230.0" y="2730.0" width="9.8" height="189.8"/>
<rect x="1309.7" y="2730.0" width="9.8" height="189.8"/>
<rect x="1230.0" y="2845.0" width="89.5" height="9.2"/>
<rect x="1403.2" y="2219.6" width="9.0" height="48.6"/>
<path d="M1431.1 2210.3L1431.1 2212.4L1433.5 2212.4L1433.5 2214.3L1436.0 2214.3L1436.0 2216.6L1433.5 2216.6L1433.5 2218.5L1431.1 2218.5L1431.1 2220.6L1384.3 2220.6L1384.3 2218.5L1381.9 2218.5L1381.9 2216.6L1379.4 2216.6L1379.4 2214.3L1381.9 2214.3L1381.9 2212.4L1384.3 2212.4L1384.3 2210.3Z"/>
<rect x="1403.2" y="2634.5" width="9.0" height="19.5"/>
<path d="M1431.1 2653.0L1431.1 2655.1L1433.5 2655.1L1433.5 2657.2L1436.0 2657.2L1436.0 2659.5L1433.5 2659.5L1433.5 2661.6L1431.1 2661.6L1431.1 2663.7L1384.3 2663.7L1384.3 2661.6L1381.9 2661.6L1381.9 2659.5L1379.4 2659.5L1379.4 2657.2L1381.9 2657.2L1381.9 2655.1L1384.3 2655.1L1384.3 2653.0Z"/>
<rect x="1362.9" y="2267.2" width="89.5" height="11.4"/>
<rect x="1362.9" y="2624.4" width="89.5" height="11.1"/>
<rect x="1362.9" y="2267.2" width="9.8" height="368.3"/>
<rect x="1442.6" y="2267.2" width="9.8" height="368.3"/>
<rect x="1362.9" y="2414.0" width="89.5" height="10.0"/>
<rect x="1536.0" y="2570.0" width="9.0" height="1.2"/>
<path d="M1563.9 2565.3L1563.9 2566.4L1566.3 2566.4L1566.3 2567.5L1568.8 2567.5L1568.8 2568.8L1566.3 2568.8L1566.3 2569.9L1563.9 2569.9L1563.9 2571.0L1517.1 2571.0L1517.1 2569.9L1514.7 2569.9L1514.7 2568.8L1512.2 2568.8L1512.2 2567.5L1514.7 2567.5L1514.7 2566.4L1517.1 2566.4L1517.1 2565.3Z"/>
<rect x="1536.0" y="2693.3" width="9.0" height="70.7"/>
<path d="M1563.9 2763.0L1563.9 2765.2L1566.3 2765.2L1566.3 2767.3L1568.8 2767.3L1568.8 2769.7L1566.3 2769.7L1566.3 2771.8L1563.9 2771.8L1563.9 2774.0L1517.1 2774.0L1517.1 2771.8L1514.7 2771.8L1514.7 2769.7L1512.2 2769.7L1512.2 2767.3L1514.7 2767.3L1514.7 2765.2L1517.1 2765.2L1517.1 2763.0Z"/>
<rect x="1495.8" y="2570.2" width="89.5" height="10.0"/>
<rect x="1495.8" y="2682.8" width="89.5" height="11.5"/>
<rect x="1495.8" y="2570.2" width="9.8" height="124.1"/>
<rect x="1575.5" y="2570.2" width="9.8" height="124.1"/>
<rect x="1495.8" y="2584.4" width="89.5" height="10.6"/>
<rect x="1668.9" y="2176.9" width="9.0" height="46.6"/>
<path d="M1696.8 2168.3L1696.8 2170.2L1699.2 2170.2L1699.2 2172.0L1701.7 2172.0L1701.7 2174.2L1699.2 2174.2L1699.2 2176.0L1696.8 2176.0L1696.8 2177.9L1650.0 2177.9L1650.0 2176.0L1647.6 2176.0L1647.6 2174.2L1645.1 2174.2L1645.1 2172.0L1647.6 2172.0L1647.6 2170.2L1650.0 2170.2L1650.0 2168.3Z"/>
<rect x="1668.9" y="2399.4" width="9.0" height="148.6"/>
<path d="M1696.8 2547.0L1696.8 2549.1L1699.2 2549.1L1699.2 2551.1L1701.7 2551.1L1701.7 2553.5L1699.2 2553.5L1699.2 2555.5L1696.8 2555.5L1696.8 2557.6L1650.0 2557.6L1650.0 2555.5L1647.6 2555.5L1647.6 2553.5L1645.1 2553.5L1645.1 2551.1L1647.6 2551.1L1647.6 2549.1L1650.0 2549.1L1650.0 2547.0Z"/>
<rect x="1628.7" y="2222.5" width="89.5" height="10.7"/>
<rect x="1628.7" y="2388.9" width="89.5" height="11.5"/>
<rect x="1628.7" y="2222.5" width="9.8" height="177.9"/>
<rect x="1708.4" y="2222.5" width="9.8" height="177.9"/>
<rect x="1628.7" y="2311.5" width="89.5" height="9.5"/>
<rect x="1801.8" y="2639.5" width="9.0" height="8.8"/>
<path d="M1829.7 2631.3L1829.7 2633.1L1832.1 2633.1L1832.1 2634.9L1834.6 2634.9L1834.6 2636.9L1832.1 2636.9L1832.1 2638.7L1829.7 2638.7L1829.7 2640.5L1782.9 2640.5L1782.9 2638.7L1780.5 2638.7L1780.5 2636.9L1778.0 2636.9L1778.0 2634.9L1780.5 2634.9L1780.5 2633.1L1782.9 2633.1L1782.9 2631.3Z"/>
<rect x="1801.8" y="2697.9" width="9.0" height="1.1"/>
<path d="M1829.7 2698.0L1829.7 2699.2L1832.1 2699.2L1832.1 2700.3L1834.6 2700.3L1834.6 2701.5L1832.1 2701.5L1832.1 2702.6L1829.7 2702.6L1829.7 2703.8L1782.9 2703.8L1782.9 2702.6L1780.5 2702.6L1780.5 2701.5L1778.0 2701.5L1778.0 2700.3L1780.5 2700.3L1780.5 2699.2L1782.9 2699.2L1782.9 2698.0Z"/>
<rect x="1761.5" y="2647.3" width="89.5" height="9.6"/>
<rect x="1761.5" y="2687.4" width="89.5" height="11.5"/>
<rect x="1761.5" y="2647.3" width="9.8" height="51.6"/>
<rect x="1841.2" y="2647.3" width="9.8" height="51.6"/>
<rect x="1761.5" y="2671.4" width="89.5" height="9.5"/>
<rect x="1934.7" y="2122.3" width="9.0" height="42.4"/>
<path d="M1962.6 2112.2L1962.6 2114.4L1965.0 2114.4L1965.0 2116.5L1967.5 2116.5L1967.5 2119.0L1965.0 2119.0L1965.0 2121.1L1962.6 2121.1L1962.6 2123.3L1915.8 2123.3L1915.8 2121.1L1913.4 2121.1L1913.4 2119.0L1910.9 2119.0L1910.9 2116.5L1913.4 2116.5L1913.4 2114.4L1915.8 2114.4L1915.8 2112.2Z"/>
<rect x="1934.7" y="2353.2" width="9.0" height="50.8"/>
<path d="M1962.6 2403.0L1962.6 2404.9L1965.0 2404.9L1965.0 2406.7L1967.5 2406.7L1967.5 2408.9L1965.0 2408.9L1965.0 2410.7L1962.6 2410.7L1962.6 2412.6L1915.8 2412.6L1915.8 2410.7L1913.4 2410.7L1913.4 2408.9L1910.9 2408.9L1910.9 2406.7L1913.4 2406.7L1913.4 2404.9L1915.8 2404.9L1915.8 2403.0Z"/>
<rect x="1894.4" y="2163.7" width="89.5" height="9.2"/>
<rect x="1894.4" y="2344.7" width="89.5" height="9.5"/>
<rect x="1894.4" y="2163.7" width="9.8" height="190.5"/>
<rect x="1974.1" y="2163.7" width="9.8" height="190.5"/>
<rect x="1894.4" y="2283.6" width="89.5" height="11.4"/>
<rect x="2200.4" y="3008.4" width="9.0" height="6.6"/>
<path d="M2228.3 2997.5L2228.3 2999.9L2230.7 2999.9L2230.7 3002.1L2233.2 3002.1L2233.2 3004.8L2230.7 3004.8L2230.7 3007.0L2228.3 3007.0L2228.3 3009.4L2181.5 3009.4L2181.5 3007.0L2179.1 3007.0L2179.1 3004.8L2176.6 3004.8L2176.6 3002.1L2179.1 3002.1L2179.1 2999.9L2181.5 2999.9L2181.5 2997.5Z"/>
<rect x="2200.4" y="3102.0" width="9.0" height="1.0"/>
<path d="M2228.3 3102.0L2228.3 3104.6L2230.7 3104.6L2230.7 3107.1L2233.2 3107.1L2233.2 3109.9L2230.7 3109.9L2230.7 3112.4L2228.3 3112.4L2228.3 3115.0L2181.5 3115.0L2181.5 3112.4L2179.1 3112.4L2179.1 3109.9L2176.6 3109.9L2176.6 3107.1L2179.1 3107.1L2179.1 3104.6L2181.5 3104.6L2181.5 3102.0Z"/>
<rect x="2160.2" y="3014.0" width="89.5" height="11.4"/>
<rect x="2160.2" y="3093.9" width="89.5" height="9.1"/>
<rect x="2160.2" y="3014.0" width="9.8" height="89.0"/>
<rect x="2239.9" y="3014.0" width="9.8" height="89.0"/>
<rect x="2160.2" y="3072.5" width="89.5" height="9.5"/>
<rect x="2067.6" y="2380.0" width="9.0" height="43.0"/>
<path d="M2095.5 2372.9L2095.5 2374.7L2097.9 2374.7L2097.9 2376.4L2100.4 2376.4L2100.4 2378.3L2097.9 2378.3L2097.9 2380.0L2095.5 2380.0L2095.5 2381.8L2048.7 2381.8L2048.7 2380.0L2046.3 2380.0L2046.3 2378.3L2043.8 2378.3L2043.8 2376.4L2046.3 2376.4L2046.3 2374.7L2048.7 2374.7L2048.7 2372.9Z"/>
<path d="M2095.5 2422.1L2095.5 2423.9L2097.9 2423.9L2097.9 2425.7L2100.4 2425.7L2100.4 2427.7L2097.9 2427.7L2097.9 2429.5L2095.5 2429.5L2095.5 2431.3L2048.7 2431.3L2048.7 2429.5L2046.3 2429.5L2046.3 2427.7L2043.8 2427.7L2043.8 2425.7L2046.3 2425.7L2046.3 2423.9L2048.7 2423.9L2048.7 2422.1Z"/>
<path d="M2114.3 2394.1L2114.3 2396.7L2116.8 2396.7L2116.8 2403.0L2114.3 2403.0L2114.3 2405.6L2029.8 2405.6L2029.8 2403.0L2027.3 2403.0L2027.3 2396.7L2029.8 2396.7L2029.8 2394.1Z"/>
<path d="M1959.4 1957.0L1959.4 1959.8L1961.7 1959.8L1961.7 1965.7L1959.4 1965.7L1959.4 1968.5L630.2 1968.5L630.2 1965.7L627.9 1965.7L627.9 1959.8L630.2 1959.8L630.2 1957.0Z"/>
<path d="M1695.9 2069.4L1695.9 2072.2L1698.2 2072.2L1698.2 2078.4L1695.9 2078.4L1695.9 2081.2L627.6 2081.2L627.6 2078.4L625.3 2078.4L625.3 2072.2L627.6 2072.2L627.6 2069.4Z"/>
<path d="M1404.6 2179.4L1404.6 2182.3L1406.9 2182.3L1406.9 2188.5L1404.6 2188.5L1404.6 2191.4L625.1 2191.4L625.1 2188.5L622.8 2188.5L622.8 2182.3L625.1 2182.3L625.1 2179.4Z"/>
<path d="M1160.0 2309.3L1160.0 2312.1L1162.3 2312.1L1162.3 2318.0L1160.0 2318.0L1160.0 2320.8L608.0 2320.8L608.0 2318.0L605.7 2318.0L605.7 2312.1L608.0 2312.1L608.0 2309.3Z"/>
<path d="M885.2 2433.7L885.2 2435.8L887.5 2435.8L887.5 2440.5L885.2 2440.5L885.2 2442.6L601.3 2442.6L601.3 2440.5L599.0 2440.5L599.0 2435.8L601.3 2435.8L601.3 2433.7Z"/>
</g>
</svg>
</body></html>
